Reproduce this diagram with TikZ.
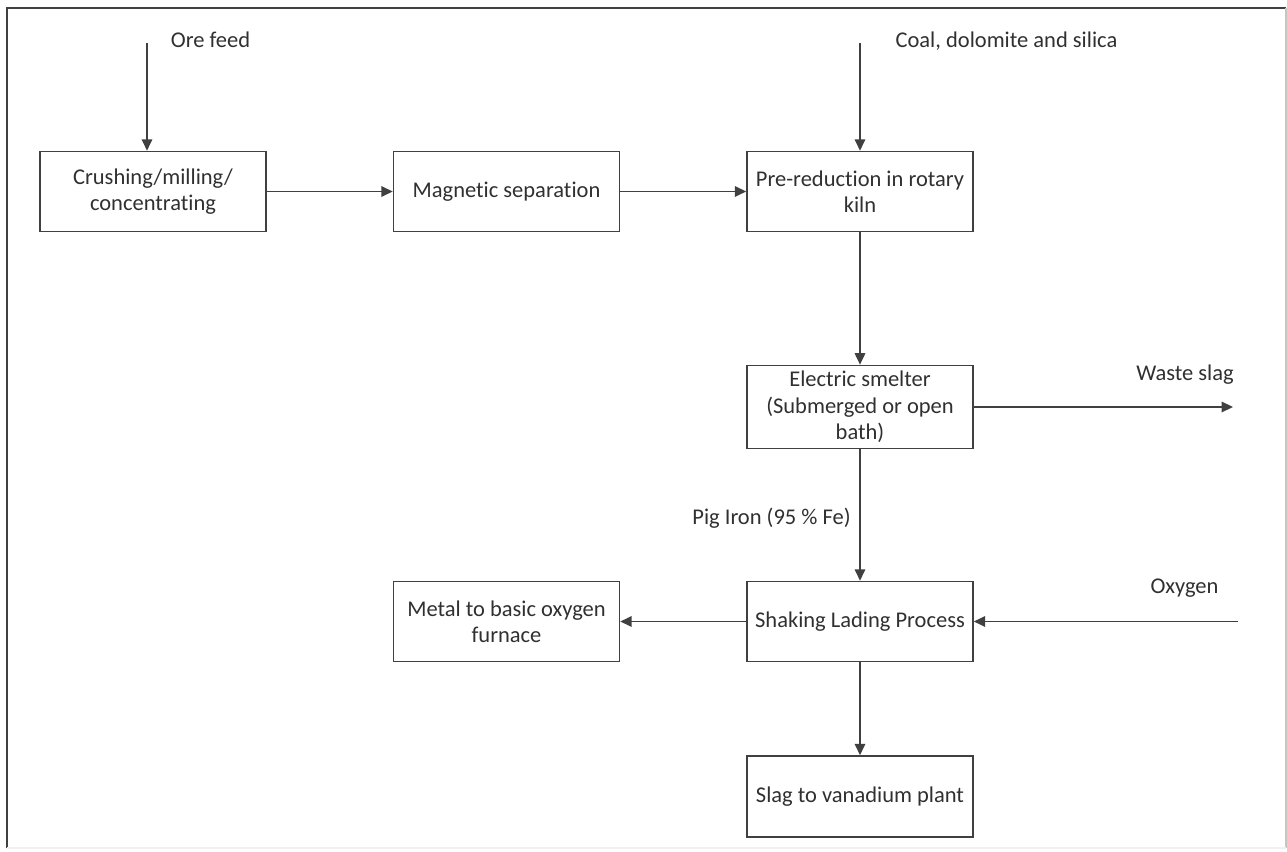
\documentclass[tikz,border=0pt]{standalone}
\usepackage{fontspec}
\setmainfont{Carlito}[Ligatures=CommonOff]
\usepackage{tikz}
\usetikzlibrary{arrows.meta, positioning, calc}

\definecolor{linegray}{HTML}{404040}
\definecolor{textgray}{HTML}{303030}

\begin{document}
\begin{tikzpicture}[
    process/.style={rectangle, draw=linegray, line width=0.9pt, minimum width=4.52cm, minimum height=1.6cm, align=center, text=textgray, font=\fontsize{12.8}{15}\selectfont},
    label/.style={text=textgray, font=\fontsize{12.8}{15}\selectfont, inner sep=1pt},
    flow/.style={draw=linegray, line width=0.9pt, -{Triangle[width=6pt, length=6.5pt]}}
]
\useasboundingbox (0,0) rectangle (25.74,17.02);
% frame
\draw[linegray, line width=0.9pt] (0.14,0.06) -- (0.14,16.86) -- (25.72,16.86);
\draw[gray!45, line width=0.8pt] (25.72,16.86) -- (25.72,0.06);
\draw[gray!12, line width=0.8pt] (0.14,0.06) -- (25.72,0.06);

\node[process] (crush) at (3.06, 13.19) {Crushing/milling/\\concentrating};
\node[process] (magnet) at (10.13, 13.19) {Magnetic separation};
\node[process] (kiln) at (17.2, 13.19) {Pre-reduction in rotary\\kiln};
\node[process] (smelter) at (17.2, 8.88) {Electric smelter\\(Submerged or open\\bath)};
\node[process] (shake) at (17.2, 4.59) {Shaking Lading Process};
\node[process] (metal) at (10.13, 4.59) {Metal to basic oxygen\\furnace};
\node[process, minimum height=1.62cm] (slag) at (17.2, 1.09) {Slag to vanadium plant};

\node[label] (orelbl) at (4.21, 16.22) {Ore feed};
\node[label] (coallbl) at (20.13, 16.2) {Coal, dolomite and silica};
\node[label] (wastelbl) at (23.7, 9.52) {Waste slag};
\node[label] (piglbl) at (15.43, 6.66) {Pig Iron (95 \% Fe)};
\node[label] (oxylbl) at (23.69, 5.26) {Oxygen};

\coordinate (orein) at (2.94, 16.16);
\coordinate (coalin) at (17.2, 16.16);
\coordinate (wasteout) at (24.66, 8.88);
\coordinate (oxyin) at (24.76, 4.59);

\draw[flow] (orein) -- (orein |- crush.north);
\draw[flow] (crush) -- (magnet);
\draw[flow] (magnet) -- (kiln);
\draw[flow] (coalin) -- (kiln.north);
\draw[flow] (kiln) -- (smelter);
\draw[flow] (smelter) -- (wasteout);
\draw[flow] (smelter) -- (shake);
\draw[flow] (oxyin) -- (shake.east);
\draw[flow] (shake) -- (metal);
\draw[flow] (shake) -- (slag);
\end{tikzpicture}
\end{document}
